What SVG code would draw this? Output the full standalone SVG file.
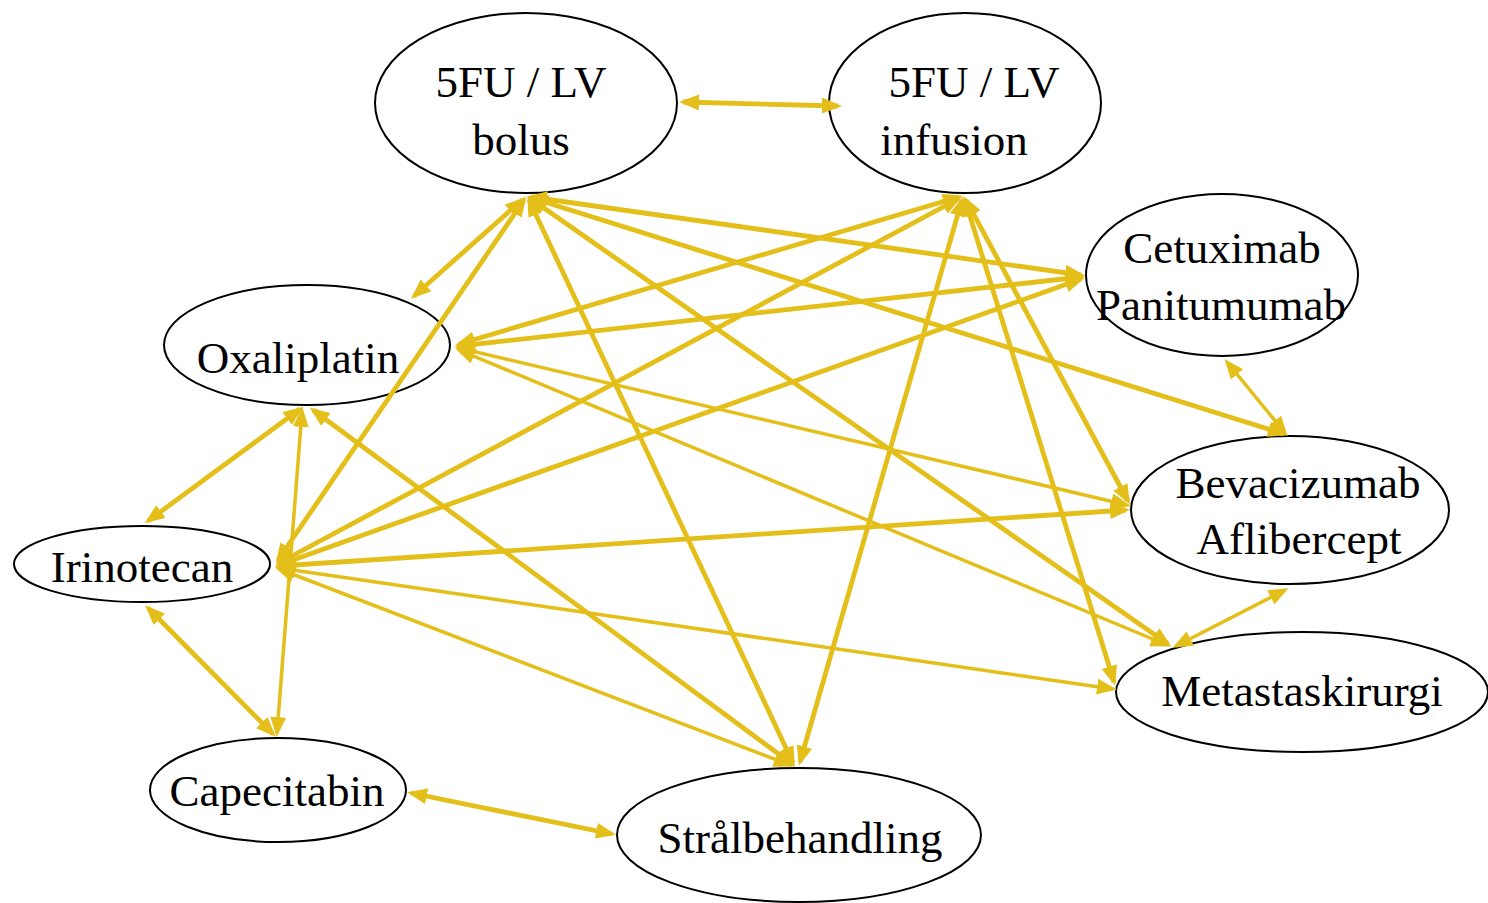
<svg xmlns="http://www.w3.org/2000/svg" width="1488" height="903" viewBox="0 0 1488 903">
<style>
.node ellipse{fill:#fff;stroke:#000;stroke-width:2}
.node text{font-family:"Liberation Serif","Times New Roman",serif;font-size:45px;fill:#000;text-anchor:middle}
.e{stroke:#E4BF1A;stroke-width:4.8;fill:none;marker-start:url(#ah);marker-end:url(#ah)}
.t{stroke-width:3.5}
</style>
<defs>
<marker id="ah" markerUnits="userSpaceOnUse" markerWidth="21" markerHeight="16" refX="16" refY="8" orient="auto-start-reverse" viewBox="0 0 21 16">
<path d="M0,0 L20,8 L0,16 z" fill="#E4BF1A"/>
</marker>
</defs>
<g id="nodes">
<g id="bolus" class="node"><ellipse cx="526" cy="103" rx="151" ry="90"/><text x="521" y="97">5FU / LV</text><text x="521" y="155">bolus</text></g>
<g id="infusion" class="node"><ellipse cx="965" cy="103" rx="136" ry="90"/><text x="974" y="97">5FU / LV</text><text x="954" y="155">infusion</text></g>
<g id="cetuximab" class="node"><ellipse cx="1222" cy="275" rx="136" ry="81"/><text x="1222" y="263">Cetuximab</text><text x="1221" y="320">Panitumumab</text></g>
<g id="oxaliplatin" class="node"><ellipse cx="307" cy="345" rx="143" ry="60"/><text x="298" y="373">Oxaliplatin</text></g>
<g id="bevacizumab" class="node"><ellipse cx="1290" cy="510" rx="159" ry="74"/><text x="1298" y="498">Bevacizumab</text><text x="1299" y="554">Aflibercept</text></g>
<g id="irinotecan" class="node"><ellipse cx="142" cy="564" rx="128" ry="38"/><text x="142" y="582">Irinotecan</text></g>
<g id="metastaskirurgi" class="node"><ellipse cx="1302" cy="692" rx="186" ry="60"/><text x="1302" y="706">Metastaskirurgi</text></g>
<g id="capecitabin" class="node"><ellipse cx="278" cy="790" rx="128" ry="52"/><text x="277" y="806">Capecitabin</text></g>
<g id="stralbehandling" class="node"><ellipse cx="799" cy="835" rx="182" ry="67"/><text x="800" y="853">Strålbehandling</text></g>
</g>
<g id="connectors">
<line class="e" x1="683" y1="102" x2="838" y2="106"/>
<line class="e" x1="522" y1="200" x2="414" y2="296"/>
<line class="e" x1="524" y1="200" x2="278" y2="560"/>
<line class="e" x1="531" y1="197" x2="1081" y2="275"/>
<line class="e" x1="532" y1="198" x2="1284" y2="434"/>
<line class="e" x1="531" y1="199" x2="1168" y2="644"/>
<line class="e" x1="529" y1="200" x2="793" y2="763"/>
<line class="e" x1="959" y1="197" x2="459" y2="344"/>
<line class="e" x1="958" y1="199" x2="279" y2="563"/>
<line class="e" x1="966" y1="200" x2="1128" y2="501"/>
<line class="e" x1="965" y1="200" x2="1114" y2="682"/>
<line class="e" x1="962" y1="200" x2="800" y2="762"/>
<line class="e" x1="1081" y1="277" x2="459" y2="346"/>
<line class="e" x1="1081" y1="279" x2="279" y2="565"/>
<line class="e t" x1="1227" y1="362" x2="1285" y2="433"/>
<line class="e t" x1="459" y1="348" x2="1127" y2="505"/>
<line class="e t" x1="459" y1="350" x2="1167" y2="645"/>
<line class="e" x1="300" y1="409" x2="148" y2="521"/>
<line class="e" x1="313" y1="410" x2="792" y2="764"/>
<line class="e t" x1="302" y1="411" x2="277" y2="733"/>
<line class="e" x1="279" y1="566" x2="1126" y2="510"/>
<line class="e t" x1="279" y1="568" x2="1113" y2="689"/>
<line class="e t" x1="279" y1="569" x2="790" y2="765"/>
<line class="e" x1="148" y1="608" x2="273" y2="734"/>
<line class="e" x1="411" y1="793" x2="612" y2="834"/>
<line class="e t" x1="1285" y1="590" x2="1176" y2="646"/>
</g>
</svg>
